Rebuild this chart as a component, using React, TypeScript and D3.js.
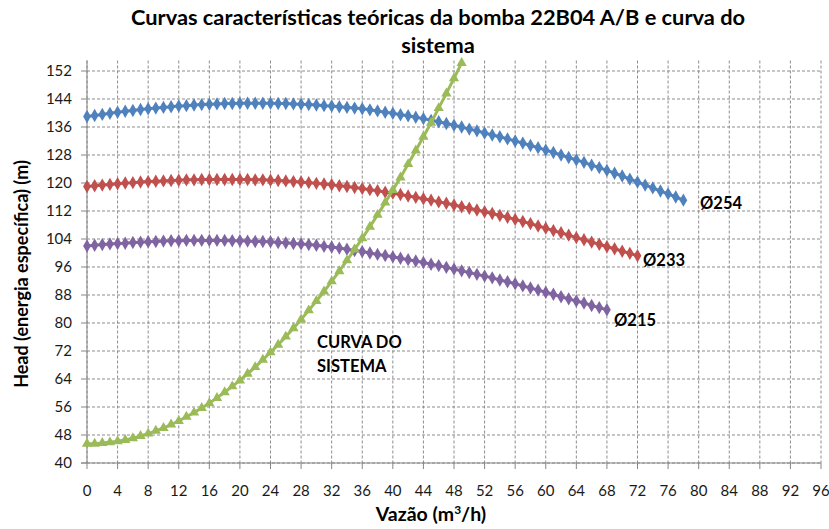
import React from "react";
import * as d3 from "d3";

// vazão (m3/h) -> head (m), one point per m3/h
const head254 = [
  139.0, 139.3, 139.6, 139.9, 140.2, 140.5, 140.7, 141.0, 141.2, 141.4,
  141.6, 141.8, 142.0, 142.1, 142.3, 142.4, 142.5, 142.6, 142.7, 142.7,
  142.8, 142.8, 142.8, 142.8, 142.8, 142.7, 142.7, 142.6, 142.5, 142.4,
  142.3, 142.1, 142.0, 141.8, 141.6, 141.4, 141.2, 140.9, 140.6, 140.2,
  139.9, 139.5, 139.2, 138.8, 138.4, 137.9, 137.5, 137.0, 136.5, 136.0,
  135.4, 134.9, 134.3, 133.7, 133.2, 132.6, 132.0, 131.4, 130.7, 130.1,
  129.4, 128.7, 128.0, 127.3, 126.6, 125.9, 125.1, 124.4, 123.6, 122.8,
  122.0, 121.1, 120.3, 119.4, 118.6, 117.7, 116.9, 116.0, 115.1,
];

const head233 = [
  119.0, 119.2, 119.4, 119.6, 119.8, 120.0, 120.1, 120.3, 120.4, 120.5,
  120.6, 120.7, 120.8, 120.9, 120.9, 121.0, 121.0, 121.0, 121.0, 121.0,
  121.0, 121.0, 120.9, 120.9, 120.8, 120.7, 120.6, 120.4, 120.3, 120.1,
  119.9, 119.7, 119.5, 119.2, 119.0, 118.7, 118.4, 118.1, 117.8, 117.4,
  117.1, 116.7, 116.3, 115.9, 115.5, 115.1, 114.6, 114.2, 113.7, 113.2,
  112.8, 112.3, 111.8, 111.3, 110.7, 110.2, 109.6, 109.0, 108.4, 107.7,
  107.1, 106.4, 105.8, 105.1, 104.4, 103.8, 103.1, 102.5, 101.8, 101.2,
  100.5, 99.9, 99.2,
];

const head215 = [
  102.0, 102.2, 102.4, 102.6, 102.7, 102.8, 103.0, 103.1, 103.2, 103.3,
  103.4, 103.5, 103.5, 103.6, 103.6, 103.6, 103.6, 103.6, 103.6, 103.5,
  103.5, 103.4, 103.3, 103.3, 103.2, 103.0, 102.9, 102.7, 102.6, 102.4,
  102.2, 101.9, 101.7, 101.4, 101.1, 100.7, 100.4, 100.0, 99.6, 99.3,
  98.9, 98.5, 98.1, 97.7, 97.3, 96.8, 96.4, 95.9, 95.4, 94.9,
  94.4, 93.9, 93.4, 92.9, 92.3, 91.8, 91.2, 90.6, 90.0, 89.4,
  88.8, 88.2, 87.5, 86.9, 86.3, 85.7, 85.0, 84.4, 83.8,
];

const headSistema = [
  45.5, 45.5, 45.7, 45.9, 46.2, 46.6, 47.1, 47.7, 48.4, 49.2,
  50.0, 51.0, 52.0, 53.2, 54.4, 55.7, 57.1, 58.6, 60.2, 61.9,
  63.6, 65.5, 67.4, 69.5, 71.6, 73.8, 76.1, 78.5, 81.0, 83.6,
  86.3, 89.0, 91.9, 94.8, 97.9, 101.0, 104.2, 107.5, 110.9, 114.4,
  118.0, 121.6, 125.4, 129.3, 133.2, 137.2, 141.4, 145.6, 149.9, 154.3,
];

const xTicks = d3.range(0, 97, 4);
const yTicks = d3.range(40, 153, 8);

const pumpCurves = [
  { label: "Ø254", values: head254, color: "#4f81bd", lx: 700, ly: 209 },
  { label: "Ø233", values: head233, color: "#c0504d", lx: 643, ly: 266 },
  { label: "Ø215", values: head215, color: "#8064a2", lx: 614, ly: 326 },
];

const FONT = "Lato, 'Open Sans', sans-serif";

export default function App() {
  const width = 829;
  const height = 529;
  const x = d3.scaleLinear().domain([0, 96]).range([87, 821]);
  const y = d3.scaleLinear().domain([40, 155]).range([463, 60.5]);

  const line = d3
    .line<number>()
    .x((_, i) => x(i))
    .y((d) => y(d));

  const diamond = d3.symbol(d3.symbolDiamond, 52)();
  const triangle = d3.symbol(d3.symbolTriangle, 46)();

  return (
    <svg
      width={width}
      height={height}
      style={{ position: "absolute", left: 0, top: 0, background: "#fff" }}
      fontFamily={FONT}
    >
      <text
        x={438}
        y={25}
        textAnchor="middle"
        fontSize={21.8}
        fontWeight="bold"
        fill="#000"
      >
        Curvas características teóricas da bomba 22B04 A/B e curva do
      </text>
      <text
        x={438}
        y={53}
        textAnchor="middle"
        fontSize={21.8}
        fontWeight="bold"
        fill="#000"
      >
        sistema
      </text>

      {/* grid */}
      {yTicks.map((t) => (
        <line
          key={"gy" + t}
          x1={x(0)}
          x2={x(96)}
          y1={y(t)}
          y2={y(t)}
          stroke="#8c8c8c"
          strokeDasharray="3,2"
        />
      ))}
      {xTicks.map((t) => (
        <line
          key={"gx" + t}
          x1={x(t)}
          x2={x(t)}
          y1={y(155)}
          y2={y(40)}
          stroke="#8c8c8c"
          strokeDasharray="3,2"
        />
      ))}

      {/* axes */}
      <line x1={x(0)} x2={x(0)} y1={y(155)} y2={y(40)} stroke="#868686" />
      <line x1={x(0) - 6} x2={x(96)} y1={y(40)} y2={y(40)} stroke="#868686" />
      {yTicks.map((t) => (
        <g key={"ty" + t}>
          <line x1={x(0) - 6} x2={x(0)} y1={y(t)} y2={y(t)} stroke="#868686" />
          <text
            x={72}
            y={y(t)}
            dy="0.35em"
            textAnchor="end"
            fontSize={15}
            fill="#1a1a1a"
          >
            {t}
          </text>
        </g>
      ))}
      {xTicks.map((t) => (
        <g key={"tx" + t}>
          <line x1={x(t)} x2={x(t)} y1={y(40)} y2={y(40) + 6} stroke="#868686" />
          <text
            x={x(t)}
            y={496}
            textAnchor="middle"
            fontSize={15}
            fill="#1a1a1a"
          >
            {t}
          </text>
        </g>
      ))}

      <text
        x={431}
        y={521}
        textAnchor="middle"
        fontSize={19.5}
        fontWeight="bold"
        fill="#000"
      >
        Vazão (m<tspan dy={-7} fontSize={12}>3</tspan>
        <tspan dy={7}>/h)</tspan>
      </text>
      <text
        transform="translate(28,274) rotate(-90)"
        textAnchor="middle"
        fontSize={18}
        fontWeight="bold"
        fill="#000"
      >
        Head (energia específica) (m)
      </text>

      {/* pump curves */}
      {pumpCurves.map((c) => (
        <g key={c.label}>
          <path
            d={line(c.values) || ""}
            fill="none"
            stroke={c.color}
            strokeWidth={3}
          />
          {c.values.map((v, i) => (
            <path
              key={i}
              d={diamond || ""}
              transform={`translate(${x(i)},${y(v)})`}
              fill={c.color}
            />
          ))}
          <text
            x={c.lx}
            y={c.ly}
            fontSize={16.5}
            fontWeight="bold"
            fill="#000"
          >
            {c.label}
          </text>
        </g>
      ))}

      {/* system curve */}
      <path
        d={line(headSistema) || ""}
        fill="none"
        stroke="#9bbb59"
        strokeWidth={3}
      />
      {headSistema.map((v, i) => (
        <path
          key={i}
          d={triangle || ""}
          transform={`translate(${x(i)},${y(v)})`}
          fill="#9bbb59"
        />
      ))}
      <text x={317} y={348} fontSize={16.5} fontWeight="bold" fill="#000">
        CURVA DO
      </text>
      <text x={317} y={372} fontSize={16.5} fontWeight="bold" fill="#000">
        SISTEMA
      </text>
    </svg>
  );
}
